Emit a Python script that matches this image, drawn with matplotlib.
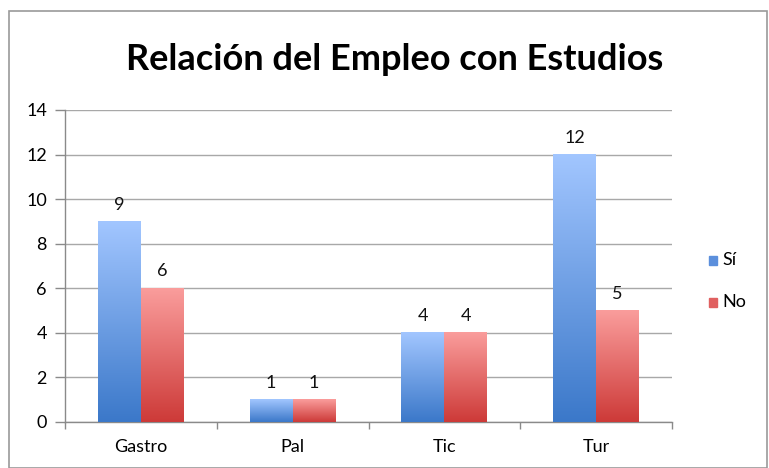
import numpy as np
import matplotlib.pyplot as plt
from matplotlib.colors import LinearSegmentedColormap
from matplotlib.patches import Rectangle

categorias = ["Gastro", "Pal", "Tic", "Tur"]
si = [9, 1, 4, 12]
no = [6, 1, 4, 5]
yticks = [0, 2, 4, 6, 8, 10, 12, 14]

plt.rcParams['font.family'] = ['Lato', 'DejaVu Sans']

fig = plt.figure(figsize=(7.69, 4.68), dpi=100)
W, H = 769, 468
ax = fig.add_axes([65 / W, (H - 422) / H, (672 - 65) / W, (422 - 110) / H])

# borde de la figura
fig.patches.append(Rectangle((9 / W, 0), (767 - 9) / W, (H - 11) / H,
                             transform=fig.transFigure, fill=False,
                             edgecolor='#9a9a9a', linewidth=1.2))

cmap_si = LinearSegmentedColormap.from_list("si", ["#3b78c9", "#a2c6ff"])
cmap_no = LinearSegmentedColormap.from_list("no", ["#cd3a38", "#fa9d9c"])
grad = np.linspace(0, 1, 256).reshape(-1, 1)

x = np.arange(len(categorias))
w = 0.283
for serie, cmap, off in [(si, cmap_si, -w / 2), (no, cmap_no, w / 2)]:
    bars = ax.bar(x + off, serie, width=w, color='none', zorder=3)
    for b, v in zip(bars, serie):
        ax.imshow(grad, cmap=cmap, origin='lower', aspect='auto', zorder=3,
                  extent=[b.get_x(), b.get_x() + b.get_width(), 0, v])
        ax.text(b.get_x() + b.get_width() / 2, v + 0.4, str(v),
                ha='center', va='bottom', fontsize=13, color='#111111')

ax.set_xlim(-0.5, len(categorias) - 0.5)
ax.set_ylim(0, 14)
ax.set_yticks(yticks)
ax.set_xticks(np.arange(len(categorias) + 1) - 0.5, minor=False)
ax.set_xticklabels([])
ax.set_xticks(x, minor=True)
ax.set_xticklabels(categorias, minor=True, fontsize=13)
ax.tick_params(axis='x', which='minor', length=0, pad=12)
ax.tick_params(axis='x', which='major', length=5, color='#8a8a8a', width=1)
ax.tick_params(axis='y', length=7, color='#8a8a8a', width=1, labelsize=13, pad=6)

ax.grid(axis='y', color='#a8a8a8', linewidth=1, zorder=0)
ax.set_axisbelow(True)
for s in ['top', 'right']:
    ax.spines[s].set_visible(False)
for s in ['left', 'bottom']:
    ax.spines[s].set_color('#8a8a8a')
    ax.spines[s].set_linewidth(1)

fig.text(395 / W, (H - 60) / H, "Relación del Empleo con Estudios",
         ha='center', va='center', fontsize=26, fontweight='bold')

# leyenda
for i, (lab, col) in enumerate([("Sí", "#5b8fdc"), ("No", "#e06060")]):
    yy = (H - 260 - i * 42) / H
    fig.patches.append(Rectangle((709 / W, yy - 4.5 / H), 8 / W, 9 / H,
                                 transform=fig.transFigure, color=col))
    fig.text(722 / W, yy, lab, ha='left', va='center', fontsize=13)

fig.savefig("out.png", dpi=100)
